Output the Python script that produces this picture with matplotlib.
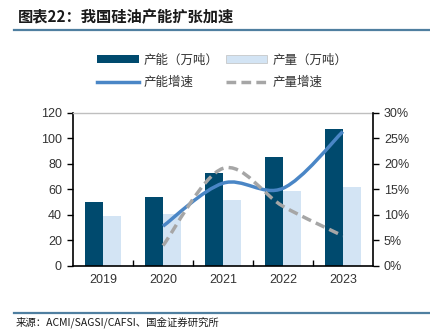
import matplotlib
matplotlib.use("Agg")
import matplotlib.pyplot as plt
import numpy as np
from matplotlib.path import Path
from matplotlib.patches import PathPatch, Patch
from matplotlib.lines import Line2D

plt.rcParams['font.family'] = ['Liberation Sans', 'Noto Sans CJK SC', 'DejaVu Sans']

years = ["2019", "2020", "2021", "2022", "2023"]
capacity = [50, 54, 73, 85, 107]          # 产能（万吨）
production = [39, 41, 52, 59, 62]         # 产量（万吨）
cap_growth_years = ["2020", "2021", "2022", "2023"]
cap_growth = [7.8, 16.2, 15.2, 26.3]      # 产能增速 %
prod_growth = [4.0, 19.1, 11.7, 5.9]      # 产量增速 %

C_CAP = "#004a6e"
C_PROD = "#d3e4f4"
C_CAPG = "#4a86c6"
C_PRODG = "#a6a6a6"
CJK = ['Noto Sans CJK SC', 'DejaVu Sans']
DASH = (0, (2.8, 1.5))

fig = plt.figure(figsize=(4.30, 3.34), dpi=100)
ax = fig.add_axes([0.170, 0.2036, 0.697, 0.459])
x = np.arange(len(years))
w = 0.3
ax.bar(x - w/2, capacity, w, color=C_CAP, zorder=2)
ax.bar(x + w/2, production, w, color=C_PROD, zorder=2)
ax.set_xlim(-0.5, len(years) - 0.5)
ax.set_ylim(0, 120)
ax.set_yticks(range(0, 121, 20))
ax.set_xticks(x)
ax.set_xticklabels(years)
ax.set_xticks(np.arange(0.5, len(years) - 1, 1), minor=True)
ax.tick_params(axis='x', which='major', length=0, pad=6, labelsize=9, colors='#333333')
ax.tick_params(axis='x', which='minor', length=4, direction='in', width=1, color='black')
ax.tick_params(axis='y', length=4, direction='out', width=1, labelsize=9, colors='#333333', pad=4)
ax.tick_params(axis='y', color='black')
for s in ['left', 'bottom']:
    ax.spines[s].set_color('black')
    ax.spines[s].set_linewidth(1.2)
ax.spines['top'].set_color('#bfbfbf')
ax.spines['top'].set_linewidth(1.0)
ax.spines['right'].set_visible(False)

ax2 = ax.twinx()
ax2.set_ylim(0, 30)
ax2.set_yticks(range(0, 31, 5))
ax2.set_yticklabels([f"{v}%" for v in range(0, 31, 5)])
ax2.tick_params(axis='y', length=4, direction='out', width=1, labelsize=9, colors='#333333', pad=4)
ax2.tick_params(axis='y', color='black')
ax2.spines['right'].set_color('black')
ax2.spines['right'].set_linewidth(1.2)
for s in ['left', 'top', 'bottom']:
    ax2.spines[s].set_visible(False)

def smooth_path(xs, ys):
    pts = np.column_stack([xs, ys]).astype(float)
    n = len(pts)
    verts = [pts[0]]
    codes = [Path.MOVETO]
    for i in range(n - 1):
        p0 = pts[i - 1] if i > 0 else pts[i]
        p1 = pts[i]
        p2 = pts[i + 1]
        p3 = pts[i + 2] if i + 2 < n else pts[i + 1]
        c1 = p1 + (p2 - p0) / 6.0
        c2 = p2 - (p3 - p1) / 6.0
        verts += [c1, c2, p2]
        codes += [Path.CURVE4] * 3
    return Path(verts, codes)

gx = [years.index(y) for y in cap_growth_years]
ax2.add_patch(PathPatch(smooth_path(gx, cap_growth), fill=False, edgecolor=C_CAPG,
                        lw=2.5, capstyle='butt', zorder=3))
ax2.add_patch(PathPatch(smooth_path(gx, prod_growth), fill=False, edgecolor=C_PRODG,
                        lw=2.5, linestyle=DASH, capstyle='butt', zorder=3))

handles = [Patch(facecolor=C_CAP, edgecolor='none'),
           Line2D([], [], color=C_CAPG, lw=2.5),
           Patch(facecolor=C_PROD, edgecolor='#bfbfbf', lw=0.5),
           Line2D([], [], color=C_PRODG, lw=2.5, linestyle=DASH)]
labels = ["产能（万吨）", "产能增速", "产量（万吨）", "产量增速"]
fig.legend(handles, labels, ncol=2, loc='center', bbox_to_anchor=(0.517, 0.786),
           frameon=False, prop={'family': CJK, 'size': 9}, handlelength=3.3,
           handleheight=0.6, columnspacing=0.6, handletextpad=0.4, labelspacing=0.75,
           labelcolor='#333333')

fig.text(0.042, 0.948, "图表22：我国硅油产能扩张加速", family=CJK, fontsize=11,
         fontweight='bold', style='italic', color='#1a1a1a', va='center', ha='left')
fig.add_artist(Line2D([0.032, 1.0], [0.909, 0.909], transform=fig.transFigure,
                      color='#4f7fa0', lw=1.6))
fig.add_artist(Line2D([0.032, 1.0], [0.063, 0.063], transform=fig.transFigure,
                      color='#4f7fa0', lw=1.6))
fig.text(0.037, 0.035, "来源：ACMI/SAGSI/CAFSI、国金证券研究所", family=CJK, fontsize=7.5,
         color='#1a1a1a', va='center', ha='left')

fig.savefig("out.png", dpi=100)
